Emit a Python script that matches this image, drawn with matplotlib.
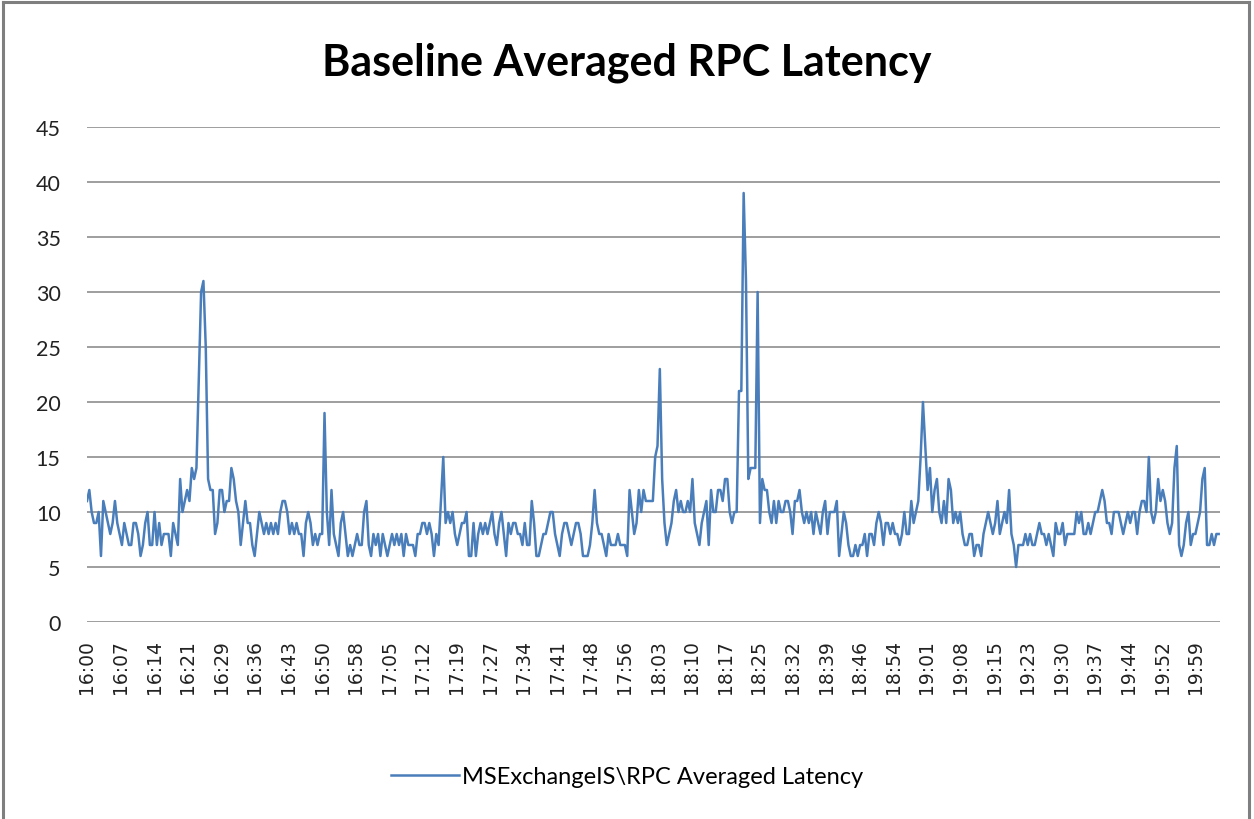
import matplotlib
matplotlib.use("Agg")
import matplotlib.pyplot as plt
from matplotlib.lines import Line2D
import numpy as np

# ---- data -------------------------------------------------------------
title = "Baseline Averaged RPC Latency"
series_name = "MSExchangeIS\\RPC Averaged Latency"
sample_minutes = 0.5025  # one value read every ~30 s
latency = [
    11, 12, 10, 9, 9, 10, 6, 11, 10, 9, 8, 9, 11, 9, 8, 7, 9, 8, 7, 7,
    9, 9, 8, 6, 7, 9, 10, 7, 7, 10, 7, 9, 7, 8, 8, 8, 6, 9, 8, 7,
    13, 10, 11, 12, 11, 14, 13, 14, 22, 30, 31, 25, 13, 12, 12, 8, 9, 12, 12, 10,
    11, 11,
    14, 13, 11, 10, 7, 9, 11, 9, 9, 7, 6, 8, 10, 9, 8, 9, 8, 9, 8, 9,
    8, 10, 11, 11, 10, 8, 9, 8, 9, 8, 8, 6, 9, 10, 9, 7, 8, 7, 8, 8,
    19, 10, 7, 12, 8, 7, 6, 9, 10, 8, 6, 7, 6, 7, 8, 7, 7, 10, 11, 7,
    6, 8,
    7, 8, 6, 8, 7, 6, 7, 8, 7, 8, 7, 8, 6, 8, 7, 7, 7, 6, 8, 8,
    9, 9, 8, 9, 8, 6, 8, 7, 11, 15, 9, 10, 9, 10, 8, 7, 8, 9, 9, 10,
    6, 6, 9, 6, 8, 9, 8, 9, 8, 9, 10, 8, 7, 9, 10, 8, 6, 9, 8, 9,
    9, 8,
    8, 7, 9, 7, 7, 11, 9, 6, 6, 7, 8, 8, 9, 10, 10, 8, 7, 6, 8, 9,
    9, 8, 7, 8, 9, 9, 8, 6, 6, 6, 7, 9, 12, 9, 8, 8, 7, 6, 8, 7,
    7, 7, 8, 7, 7, 7, 6, 12, 10, 8, 9, 12, 10, 12, 11, 11, 11, 11, 15, 16,
    23, 13, 9,
    7, 8, 9, 11, 12, 10, 11, 10, 10, 11, 10, 13, 9, 8, 7, 9, 10, 11, 7, 12,
    10, 10, 12, 12, 11, 13, 13, 10, 9, 10, 10, 21, 21, 39, 31, 13, 14, 14, 14, 30,
    9, 13, 12, 12, 10, 9, 11, 9, 11, 10, 10, 11, 11, 10, 8, 11, 11, 12, 10, 9,
    10, 9,
    10, 8, 10, 9, 8, 10, 11, 8, 10, 10, 10, 11, 6, 8, 10, 9, 7, 6, 6, 7,
    6, 7, 7, 8, 6, 8, 8, 7, 9, 10, 9, 7, 9, 9, 8, 9, 8, 8, 7, 8,
    10, 8, 8, 11, 9, 10, 11, 15, 20, 16, 12, 14, 10, 12, 13, 10, 9, 11, 9, 13,
    12, 9,
    10, 9, 10, 8, 7, 7, 8, 8, 6, 7, 7, 6, 8, 9, 10, 9, 8, 9, 11, 8,
    9, 10, 9, 12, 8, 7, 5, 7, 7, 7, 8, 7, 8, 7, 7, 8, 9, 8, 8, 7,
    8, 7, 6, 9, 8, 8, 9, 7, 8, 8, 8, 8, 10, 9, 10, 8, 8, 9, 8, 9,
    10, 10,
    11, 12, 11, 9, 9, 8, 10, 10, 10, 9, 8, 9, 10, 9, 10, 10, 8, 10, 11, 11,
    10, 15, 10, 9, 10, 13, 11, 12, 11, 9, 8, 9, 14, 16, 7, 6, 7, 9, 10, 7,
    8, 8, 9, 10, 13, 14, 7, 7, 8, 7, 8, 8,
]
tick_labels = ["16:00", "16:07", "16:14", "16:21", "16:29", "16:36", "16:43",
               "16:50", "16:58", "17:05", "17:12", "17:19", "17:27", "17:34",
               "17:41", "17:48", "17:56", "18:03", "18:10", "18:17", "18:25",
               "18:32", "18:39", "18:46", "18:54", "19:01", "19:08", "19:15",
               "19:23", "19:30", "19:37", "19:44", "19:52", "19:59"]
label_step_minutes = 7.25
y_ticks = [0, 5, 10, 15, 20, 25, 30, 35, 40, 45]

# ---- figure -----------------------------------------------------------
W, H = 1254, 820
fig = plt.figure(figsize=(W / 100, H / 100), dpi=100)
fig.patch.set_facecolor("white")

humanist = ["Lato", "DejaVu Sans"]

left, right, top, bottom = 87, 1220, 128, 623
ax = fig.add_axes([left / W, 1 - bottom / H, (right - left) / W, (bottom - top) / H])

x = np.arange(len(latency)) * sample_minutes
ax.plot(x, latency, color="#4A7EBB", lw=1.8, solid_joinstyle="round", zorder=3)

ax.set_ylim(0, 45)
ax.set_xlim(0, 244.5)
ax.set_yticks(y_ticks)
ax.set_yticklabels([str(v) for v in y_ticks], family=humanist, fontsize=15.5)
ax.set_xticks(np.arange(len(tick_labels)) * label_step_minutes)
ax.set_xticklabels(tick_labels, rotation=90, family="DejaVu Sans", fontsize=13.5)
ax.tick_params(axis="both", length=0, colors="#222222")
ax.tick_params(axis="y", pad=19)
ax.tick_params(axis="x", pad=12)
ax.grid(axis="y", color="#8E8E8E", lw=1.2, zorder=1)
ax.set_axisbelow(True)
for s in ["left", "right", "top", "bottom"]:
    ax.spines[s].set_visible(False)

fig.text(0.5, 1 - 63 / H, title, ha="center", va="center", fontsize=31,
         fontweight="bold", family=humanist)

handle = Line2D([], [], color="#4A7EBB", lw=1.8)
fig.legend([handle], [series_name], loc="center", bbox_to_anchor=(0.5, 1 - 778 / H),
           frameon=False, prop={"family": humanist, "size": 17}, handlelength=2.9,
           handletextpad=0.1)

# outer chart border (bottom edge lies outside the picture)
bc = "#7F7F7F"
fig.add_artist(Line2D([3 / W, 3 / W], [0, 1 - 3 / H], color=bc, lw=2.2, transform=fig.transFigure))
fig.add_artist(Line2D([1249 / W, 1249 / W], [0, 1 - 3 / H], color=bc, lw=2.2, transform=fig.transFigure))
fig.add_artist(Line2D([3 / W, 1249 / W], [1 - 3 / H, 1 - 3 / H], color=bc, lw=2.2, transform=fig.transFigure))

fig.savefig("out.png", dpi=100, facecolor="white")
